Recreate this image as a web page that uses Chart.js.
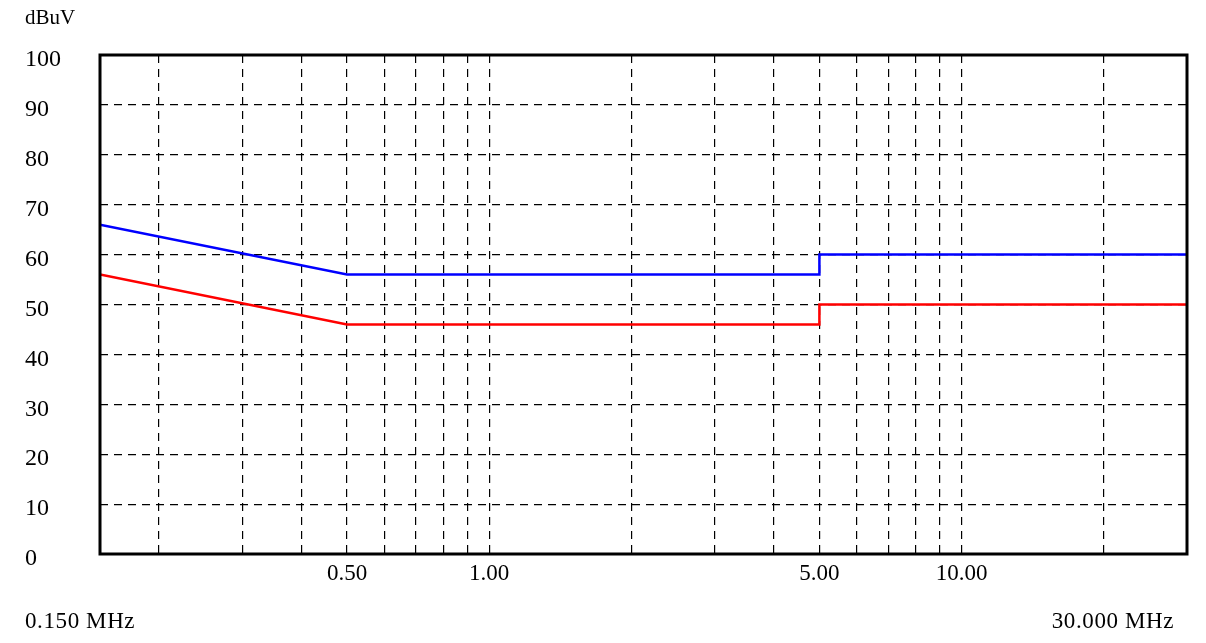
<!DOCTYPE html>
<html>
<head>
<meta charset="utf-8">
<script src="https://cdn.jsdelivr.net/npm/chart.js@4"></script>
<style>
  body { margin: 0; background: #fff; }
  #wrap { width: 1206px; height: 643px; position: relative; }
</style>
</head>
<body>
<div id="wrap"><canvas id="limitChart"></canvas></div>
<script>
// frequency points (MHz) of the limit lines
const freqs = [0.15, 0.5, 5, 5, 30];
// quasi-peak limit (blue) and average limit (red), dBuV
const qpLimit = [66, 56, 56, 60, 60];
const avLimit = [56, 46, 46, 50, 50];
// vertical grid positions and which of them get a label
const xGrid = [0.15, 0.2, 0.3, 0.4, 0.5, 0.6, 0.7, 0.8, 0.9, 1, 2, 3, 4, 5, 6, 7, 8, 9, 10, 20, 30];
const xLabeled = [0.5, 1, 5, 10];
const yTicks = [0, 10, 20, 30, 40, 50, 60, 70, 80, 90, 100];

const FONT = "'Liberation Serif', 'DejaVu Serif', serif";

const toPoints = (vals) => freqs.map((f, i) => ({ x: f, y: vals[i] }));

// frame + corner texts
const framePlugin = {
  id: "frame",
  afterDatasetsDraw(chart) {
    const { ctx, chartArea: a } = chart;
    ctx.save();
    ctx.strokeStyle = "#000";
    ctx.lineWidth = 3;
    ctx.strokeRect(a.left, a.top, a.right - a.left, a.bottom - a.top);
    ctx.fillStyle = "#000";
    ctx.font = "21px " + FONT;
    ctx.textBaseline = "middle";
    ctx.textAlign = "left";
    ctx.fillText("dBuV", 25, 18);
    ctx.font = "23px " + FONT;
    ctx.letterSpacing = "0.6px";
    ctx.fillText("0.150 MHz", 25, 622);
    ctx.textAlign = "right";
    ctx.fillText("30.000 MHz", 1174, 622);
    ctx.restore();
  },
};

const ctx = document.getElementById("limitChart").getContext("2d");
new Chart(ctx, {
  type: "line",
  data: {
    datasets: [
      {
        label: "QP",
        data: toPoints(qpLimit),
        borderColor: "#0000ff",
        borderWidth: 2.5,
        pointRadius: 0,
        tension: 0,
      },
      {
        label: "AV",
        data: toPoints(avLimit),
        borderColor: "#ff0000",
        borderWidth: 2.5,
        pointRadius: 0,
        tension: 0,
      },
    ],
  },
  options: {
    responsive: true,
    maintainAspectRatio: false,
    animation: false,
    layout: { padding: { left: 25, right: 19, top: 55, bottom: 0 } },
    plugins: {
      legend: { display: false },
      tooltip: { enabled: false },
    },
    scales: {
      x: {
        type: "logarithmic",
        min: 0.15,
        max: 30,
        afterBuildTicks(scale) {
          scale.ticks = xGrid.map((v) => ({ value: v }));
        },
        afterFit(scale) {
          scale.height = 89;
        },
        ticks: {
          autoSkip: false,
          maxRotation: 0,
          padding: 6,
          color: "#000",
          font: { family: FONT, size: 23 },
          callback: (v) => (xLabeled.includes(v) ? v.toFixed(2) : ""),
        },
        grid: {
          color: "#000",
          lineWidth: 1.2,
          drawTicks: false,
        },
        border: { display: false, dash: [8, 6] },
      },
      y: {
        min: 0,
        max: 100,
        afterBuildTicks(scale) {
          scale.ticks = yTicks.map((v) => ({ value: v }));
        },
        afterFit(scale) {
          scale.width = 75;
        },
        ticks: {
          crossAlign: "far",
          labelOffset: 5,
          color: "#000",
          font: { family: FONT, size: 24 },
        },
        grid: {
          color: "#000",
          lineWidth: 1.2,
          drawTicks: false,
        },
        border: { display: false, dash: [8, 6] },
      },
    },
  },
  plugins: [framePlugin],
});
</script>
</body>
</html>
